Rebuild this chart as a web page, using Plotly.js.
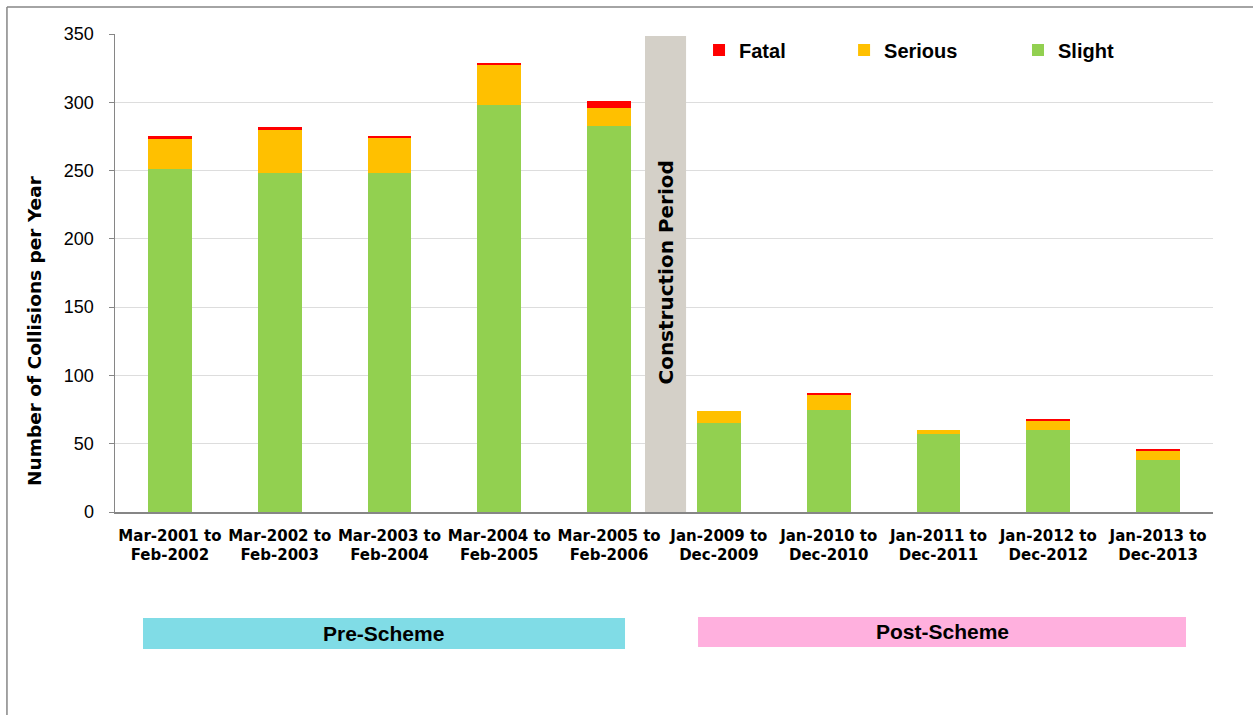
<!DOCTYPE html>
<html>
<head>
<meta charset="utf-8">
<script src="https://cdn.plot.ly/plotly-3.0.1.min.js"></script>
<style>html,body{margin:0;padding:0;background:#fff;}#chart{width:1253px;height:715px;}</style>
</head>
<body>
<div id="chart"></div>
<script>
var categories = [
  "Mar-2001 to<br>Feb-2002", "Mar-2002 to<br>Feb-2003", "Mar-2003 to<br>Feb-2004",
  "Mar-2004 to<br>Feb-2005", "Mar-2005 to<br>Feb-2006", "Jan-2009 to<br>Dec-2009",
  "Jan-2010 to<br>Dec-2010", "Jan-2011 to<br>Dec-2011", "Jan-2012 to<br>Dec-2012",
  "Jan-2013 to<br>Dec-2013"
];
var slight  = [251, 248, 248, 298, 283, 65, 75, 57, 60, 38];
var serious = [22, 32, 26, 29, 13, 9, 11, 3, 7, 7];
var fatal   = [2, 2, 1, 2, 5, 0, 1, 0, 1, 1];
var constructionHeight = 348.5;
var yTicks = [0, 50, 100, 150, 200, 250, 300, 350];

var arial = "Liberation Sans, Arial, sans-serif";
var wide = "DejaVu Sans, Liberation Sans, sans-serif";
var xIdx = categories.map(function(c, i){ return i; });

var traces = [
  {type:"bar", name:"<b>Slight</b>", x:xIdx, y:slight, marker:{color:"#92D050"}, legend:"legend3"},
  {type:"bar", name:"<b>Serious</b>", x:xIdx, y:serious, marker:{color:"#FFC000"}, legend:"legend2"},
  {type:"bar", name:"<b>Fatal</b>", x:xIdx, y:fatal, marker:{color:"#FF0000"}, legend:"legend"}
];

function legendAt(x){
  return {x:x, y:0.9665, xanchor:"left", yanchor:"middle", orientation:"h",
          bgcolor:"rgba(0,0,0,0)", font:{family:arial, size:20, color:"#000"},
          itemwidth:30};
}

var layout = {
  width:1253, height:715,
  margin:{l:115, r:40, t:34, b:203},
  paper_bgcolor:"#fff", plot_bgcolor:"#fff",
  barmode:"stack", bargap:0.6,
  showlegend:true,
  legend: legendAt(0.5319),
  legend2: legendAt(0.6640),
  legend3: legendAt(0.8224),
  xaxis:{
    tickmode:"array", tickvals:xIdx, ticktext:categories.map(function(c){return "<b>"+c+"</b>";}),
    range:[-0.5, 9.5], showgrid:false, zeroline:false,
    showline:true, linecolor:"#868686", linewidth:1.5, ticks:"",
    ticklabelstandoff:9,
    tickfont:{family:wide, size:15, color:"#000"}, fixedrange:true
  },
  yaxis:{
    range:[0, 350], tickmode:"array", tickvals:yTicks,
    showgrid:true, gridcolor:"#DDDDDD", gridwidth:1, zeroline:false,
    showline:true, linecolor:"#868686", linewidth:1.5,
    ticks:"outside", ticklen:5, tickcolor:"#868686", ticklabelstandoff:11,
    tickfont:{family:arial, size:18, color:"#000"}
  },
  shapes:[
    {type:"rect", xref:"x", yref:"y", x0:4.514-0.187, x1:4.514+0.187, y0:0, y1:constructionHeight,
     fillcolor:"#D4D0C8", line:{width:0}},
    {type:"rect", xref:"paper", yref:"paper", x0:0.0255, x1:0.4645, y0:-0.2866, y1:-0.2218,
     fillcolor:"#80DCE6", line:{width:0}},
    {type:"rect", xref:"paper", yref:"paper", x0:0.5310, x1:0.9754, y0:-0.2824, y1:-0.2197,
     fillcolor:"#FFB0DE", line:{width:0}},
    {type:"line", xref:"paper", yref:"paper", x0:-0.0984, x1:1.2, y0:1.0565, y1:1.0565,
     line:{color:"#868686", width:1.5}},
    {type:"line", xref:"paper", yref:"paper", x0:-0.0984, x1:-0.0984, y0:-0.5, y1:1.0565,
     line:{color:"#868686", width:1.5}}
  ],
  annotations:[
    {text:"<b>Number of Collisions per Year</b>", xref:"paper", yref:"paper", x:-0.0729, y:0.3808,
     textangle:-90, showarrow:false, font:{family:wide, size:18.5, color:"#000"},
     xanchor:"center", yanchor:"middle"},
    {text:"<b>Construction Period</b>", xref:"x", yref:"y", x:4.514, y:175, textangle:-90,
     showarrow:false, font:{family:wide, size:20, color:"#000"}, xanchor:"center", yanchor:"middle"},
    {text:"<b>Pre-Scheme</b>", xref:"paper", yref:"paper", x:0.2444, y:-0.2552,
     showarrow:false, font:{family:arial, size:21, color:"#000"}, xanchor:"center", yanchor:"middle"},
    {text:"<b>Post-Scheme</b>", xref:"paper", yref:"paper", x:0.7532, y:-0.2510,
     showarrow:false, font:{family:arial, size:21, color:"#000"}, xanchor:"center", yanchor:"middle"}
  ]
};

Plotly.newPlot("chart", traces, layout, {displayModeBar:false, staticPlot:true});
</script>
</body>
</html>
